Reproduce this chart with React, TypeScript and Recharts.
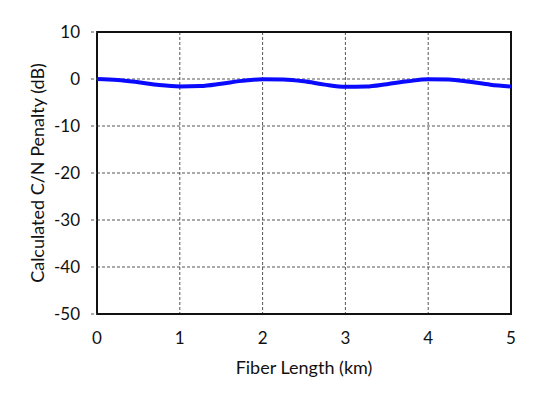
import { CartesianGrid, Line, LineChart, ReferenceArea, XAxis, YAxis } from "recharts";

const lengthKm = [0, 0.25, 0.5, 0.75, 1, 1.25, 1.5, 1.75, 2, 2.25, 2.5, 2.75, 3, 3.25, 3.5, 3.75, 4, 4.25, 4.5, 4.75, 5];
const penaltyDb = [0, -0.2, -0.7, -1.3, -1.6, -1.5, -1.0, -0.4, -0.05, -0.1, -0.5, -1.2, -1.65, -1.6, -1.1, -0.5, -0.05, -0.1, -0.6, -1.2, -1.6];
const xTicks = [0, 1, 2, 3, 4, 5];
const yTicks = [-50, -40, -30, -20, -10, 0, 10];

const data = lengthKm.map((x, i) => ({ x, y: penaltyDb[i] }));

const font = "Lato, 'Open Sans', sans-serif";

export default function App() {
  return (
    <div style={{ position: "absolute", left: 0, top: 0, width: 540, height: 401, background: "#fff" }}>
      <LineChart width={540} height={401} data={data} margin={{ top: 32, right: 29, left: 0, bottom: 57 }}>
        <CartesianGrid stroke="#555" strokeDasharray="3 2" />
        <XAxis
          dataKey="x"
          type="number"
          domain={[0, 5]}
          ticks={xTicks}
          tickLine={false}
          axisLine={false}
          tickMargin={12}
          tick={{ fill: "#111", fontSize: 17, fontFamily: font }}
          label={{ value: "Fiber Length (km)", position: "insideBottom", offset: -30, fill: "#111", fontSize: 18, fontFamily: font }}
        />
        <YAxis
          type="number"
          domain={[-50, 10]}
          ticks={yTicks}
          width={97}
          axisLine={false}
          tickLine={{ stroke: "#555", strokeDasharray: "3 2" }}
          tickSize={6}
          tickMargin={11}
          tick={{ fill: "#111", fontSize: 17, fontFamily: font }}
          label={{ value: "Calculated C/N Penalty (dB)", angle: -90, position: "insideLeft", offset: 38, fill: "#111", fontSize: 18, fontFamily: font, style: { textAnchor: "middle" } }}
        />
        <ReferenceArea x1={0} x2={5} y1={-50} y2={10} fill="none" stroke="#111" strokeWidth={2} strokeOpacity={1} fillOpacity={0} />
        <Line type="monotone" dataKey="y" stroke="#0a0aff" strokeWidth={4} dot={false} isAnimationActive={false} />
      </LineChart>
    </div>
  );
}
